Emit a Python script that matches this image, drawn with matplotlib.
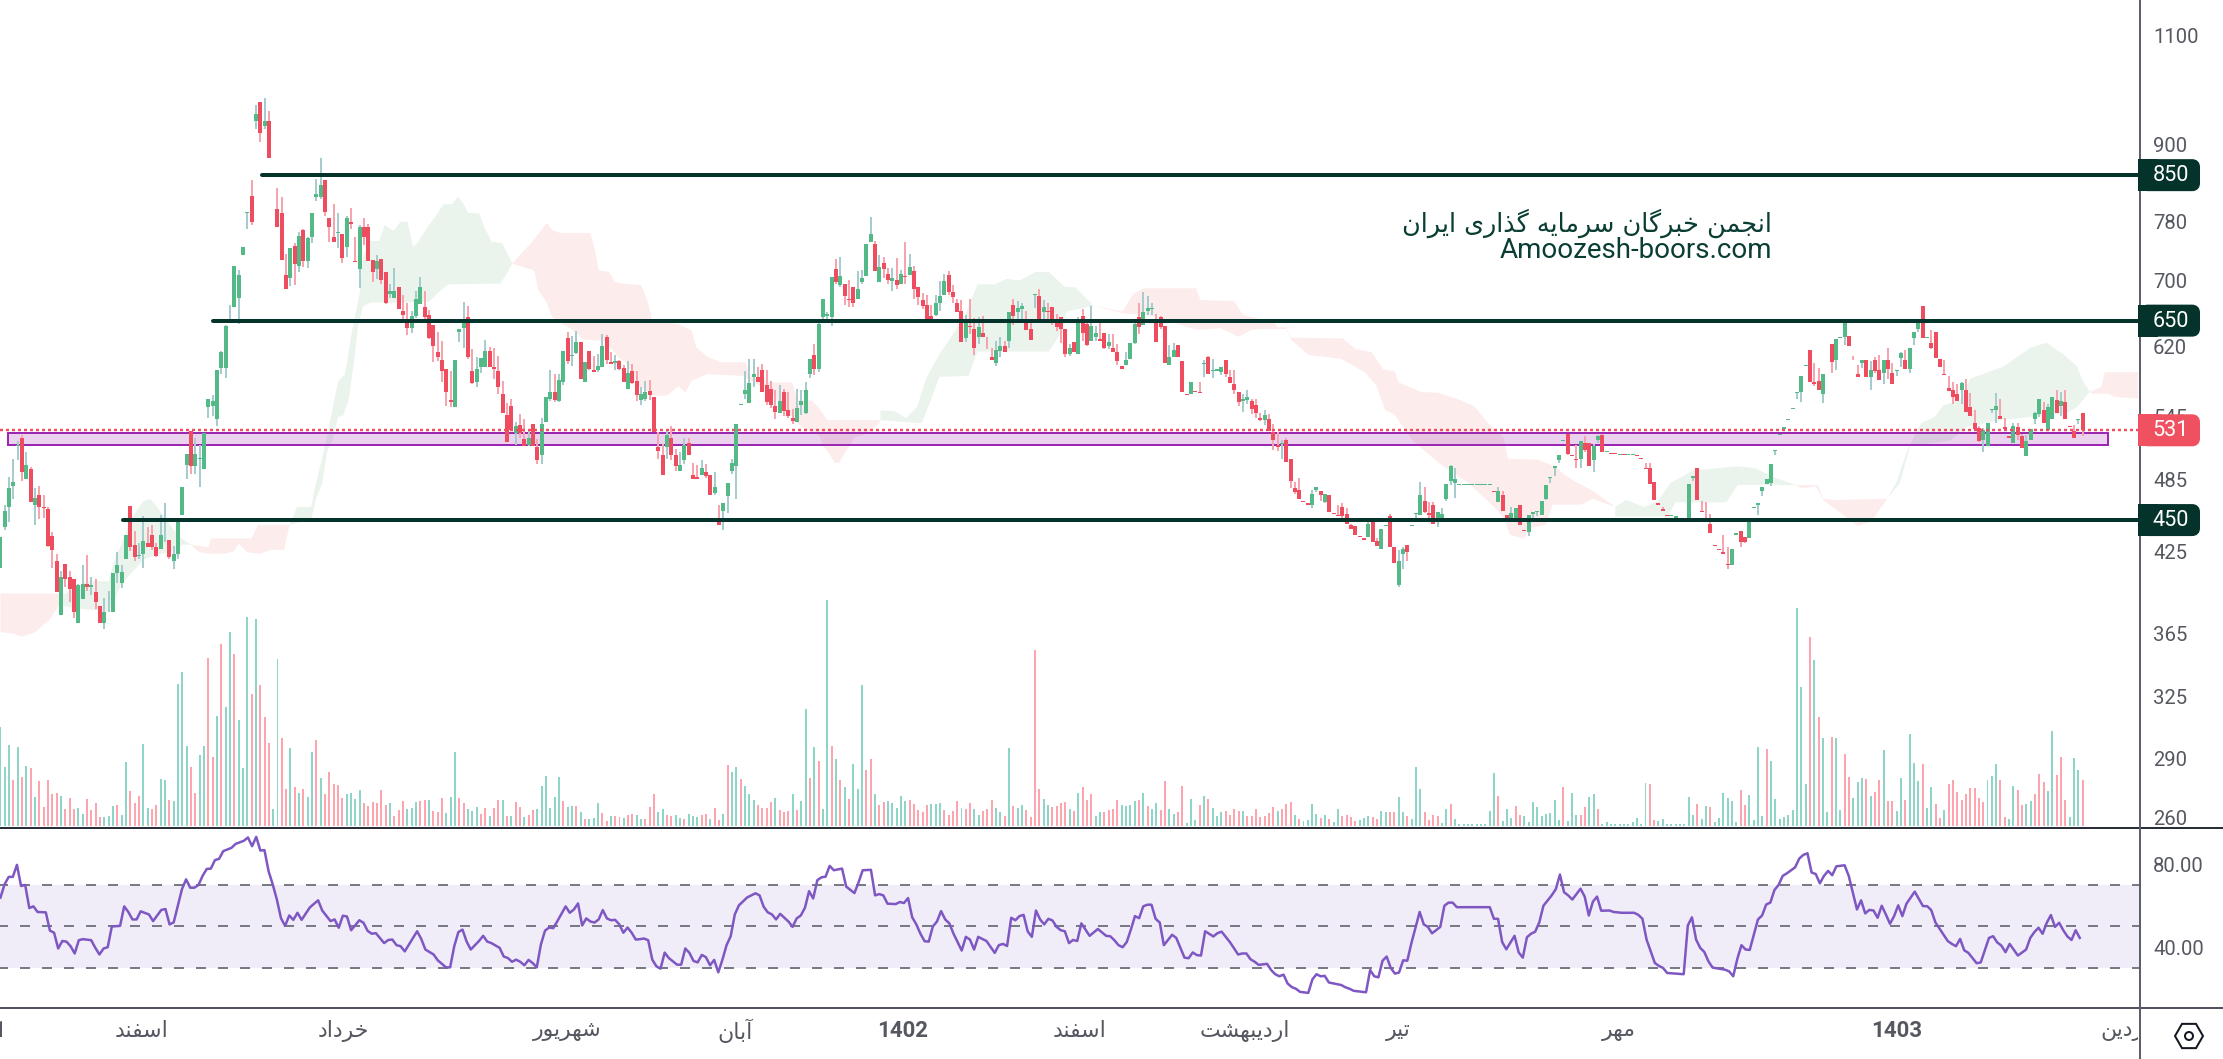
import matplotlib
matplotlib.use('Agg')
import matplotlib.pyplot as plt
import numpy as np
from matplotlib.patches import Rectangle, FancyBboxPatch, RegularPolygon, Circle
from matplotlib.ticker import NullLocator
from matplotlib.transforms import Bbox

# candles (G = up, R = down)
candle_dir = ("GGGGGRGRGR" "RRRRGRRRGG" "RGRRGGGGGG" "RRGGRRRGGR" "GGGGRGGGGG" "GGGGGGGGRG" "RGRRRRRGRG"
              "RGGGGRRRGR" "GRRGRRRGRR" "GGRRRGGGRR" "RRRRRGGGRR" "GGGRRRRRR" "GRRGRRGGGRG"
              "GRGGRGRRGG" "RRGRRGRRGG" "RRRRGRRGGR" "RRGRRGRGGG" "GGGGGRRRRR" "GRRRGGGGRG" "GGGRGRRRGG"
              "GGRGRRGRGR" "GRRRRRGGGR" "RRRGRRGRR" "RGGRGRGGRR" "GRGRRRRRGR" "GRRGGRRGRR" "RGGGRGGGRR"
              "RGGRRRGRRG" "RGGGRRRRGG" "RRR"
              "GRRRGRRRRR" "RGGRGRRRRR" "RRRRGRRGGR" "RGGRGGGRRR" "GGGGGGGGGGGGGRGRRGGR" "RGGGGGGGGG"
              "RRRGRRGGRG" "RRGRGGRRR" "RRRRRGGRGG" "GRRRRRRRRG" "GRRGGGGGGG" "GGGGGGGRRR" "GGRGGGRRRG"
              "RGRRGRRGGR" "GGGRGRRRRR" "RR"
              "GRRRRGGGGR" "RRGRRGGGGR" "GGRGRRRGR")

highs = [436,463,487,504,521,526,510,496,477,479,471,461,440,423,410,415,410,404,400,414,422,405,404,384,390,395,408,424,414,438,
         462,441,431,453,444,446,431,454,464,434,429,448,478,508,530,524,517,528,563,567,593,615,645,669,719,713,745,794,843,967,
         972,980,956,832,830,817,735,743,750,766,769,759,793,844,877,843,785,806,792,762,789,800,758,775,786,777,727,733,728,711,
         695,716,692,681,672,662,686,705,687,663,645,637,626,595,592,605,640,673,668,617,608,607,627,619,618,609,582,558,563,
         539,547,542,530,537,523,543,565,594,589,589,
         615,637,632,638,625,602,615,609,611,634,633,614,610,604,599,603,600,592,575,582,
         583,565,529,518,532,535,513,510,524,524,500,498,503,499,489,492,463,464,482,504,
         537,557,592,606,606,597,600,593,582,572,577,573,570,552,573,572,580,606,623,650,
         676,661,704,728,731,695,700,691,712,714,749,787,753,733,731,716,716,730,714,751,
         735,719,691,684,681,669,681,699,709,712,694,676,675,657,676,653,654,655,631,
         618,626,631,626,661,676,674,672,662,652,683,689,675,672,666,658,654,640,623,625,
         654,664,650,668,644,648,635,634,634,623,598,614,624,649,672,685,680,672,658,655,
         644,621,624,622,603,568,580,571,580,605,609,606,595,597,604,594,594,570,568,572,563,563,548,
         551,547,537,529,522,524,504,483,486,466,464,476,478,475,472,471,456,463,464,460,
         447,445,437,435,449,450,435,443,446,455,428,426,428,430,446,456,483,478,465,465,
         457,460,481,498,495,481,481,481,481,481,481,481,481,475,478,475,454,461,460,463,
         442,454,457,458,466,480,487,497,507,522,527,507,517,521,525,519,518,526,527,511,
         509,509,508,508,508,508,507,505,500,500,483,464,461,454,454,453,452,452,481,
         488,495,466,465,455,430,427,438,428,427,439,441,436,450,461,464,478,485,499,512,
         527,534,542,553,570,587,599,616,601,596,589,605,623,628,631,651,632,609,599,605,
         605,603,608,610,604,618,601,593,614,616,618,636,651,668,631,639,637,606,605,587,581,578,
         580,584,569,551,535,533,538,552,569,563,543,525,538,538,527,526,532,549,563,559,
         557,565,572,570,572,535,536,542,548]

body_top = [436,458,477,483,517,524,498,494,469,471,461,459,437,417,405,415,405,404,399,400,400,399,394,384,380,380,408,414,409,438,
            462,430,422,433,431,438,428,438,439,434,423,448,478,508,530,508,505,528,563,561,593,613,644,656,719,707,745,794,818,951,
            972,939,940,832,799,793,707,743,746,760,768,757,793,821,834,843,785,759,765,762,785,780,725,772,772,772,727,725,728,711,
            687,686,692,662,650,655,677,691,667,657,645,613,604,595,562,605,640,648,654,592,595,607,615,615,597,592,568,546,555,
            535,536,523,524,537,515,537,565,570,570,583,
            615,630,610,625,625,602,615,593,598,620,631,602,603,603,596,590,592,582,568,570,
            571,565,515,507,526,524,507,498,517,519,489,487,495,492,489,478,448,464,482,500,
            537,557,572,579,589,586,593,577,573,555,560,570,551,543,553,561,572,606,610,646,
            676,658,704,715,706,695,676,691,689,703,749,762,749,717,723,709,703,701,708,706,
            717,712,691,675,669,655,672,680,699,707,685,671,662,649,644,640,642,635,626,
            608,616,620,620,661,669,665,668,652,640,683,680,666,662,666,650,654,640,618,625,
            649,655,646,644,635,628,635,625,618,614,598,605,624,646,654,661,665,665,648,654,
            644,608,616,622,603,568,580,571,570,601,608,594,595,597,604,586,578,570,563,565,561,556,543,
            546,542,529,517,519,522,504,477,476,466,464,472,478,475,472,471,456,454,461,455,
            446,445,437,435,447,450,433,443,446,453,428,417,427,430,446,456,471,466,456,463,
            457,455,481,497,485,481,481,481,481,481,481,481,481,475,475,471,454,456,460,463,
            442,454,457,458,466,480,487,497,507,522,527,507,504,521,519,519,516,525,526,511,
            509,509,508,508,508,508,507,505,495,495,483,464,459,454,454,453,452,452,481,
            488,495,458,452,447,430,427,424,415,427,439,441,436,450,461,464,478,485,499,512,
            527,534,542,553,570,587,599,616,581,582,589,605,623,628,631,651,632,605,589,605,
            605,594,605,594,604,604,590,593,612,605,618,636,651,668,631,624,637,606,589,574,572,568,
            579,572,554,538,533,531,538,552,555,545,534,525,535,534,525,521,532,548,563,551,
            554,565,562,560,559,535,530,542,548]

body_bottom = [412,444,461,479,516,492,485,465,463,461,460,429,426,394,378,404,396,380,372,389,398,398,387,372,372,380,380,408,401,419,
               428,420,421,423,428,428,421,427,439,420,417,423,454,498,497,497,504,494,554,555,542,596,596,655,667,678,733,793,779,940,
               918,931,878,831,772,727,689,703,721,719,725,725,758,816,816,794,772,751,764,730,745,777,724,715,758,725,711,715,700,672,
               683,678,664,657,641,641,655,670,654,630,620,608,592,570,559,554,636,641,608,579,580,597,597,597,595,575,548,520,531,
               528,528,516,517,516,503,507,539,563,562,561,
               581,603,609,612,584,581,595,591,593,597,604,600,601,595,580,573,579,567,562,563,
               567,529,511,489,515,507,497,493,503,507,485,485,489,488,471,473,446,458,470,493,
               497,556,568,558,586,581,570,559,556,549,548,550,545,540,539,556,548,589,595,595,
               654,655,654,698,694,680,675,671,676,698,706,751,712,698,715,700,699,694,696,705,
               707,689,679,668,649,648,657,671,681,685,679,660,625,630,642,618,631,631,626,
               604,601,615,613,626,656,660,664,639,627,681,651,661,660,648,643,640,611,611,613,
               611,635,621,626,631,626,618,620,613,603,595,599,606,624,642,645,662,664,625,642,
               601,599,608,608,570,567,568,570,569,600,589,592,592,591,589,579,572,559,560,562,552,548,541,
               541,530,522,515,518,501,484,474,468,465,463,463,476,471,465,457,455,453,453,447,
               443,438,436,434,436,432,429,427,445,428,416,399,423,424,445,455,454,457,454,447,
               452,449,468,484,482,480,480,480,480,480,480,480,480,474,465,458,452,449,448,446,
               441,440,455,457,454,468,486,495,503,521,508,506,503,504,512,497,503,522,510,510,
               508,508,507,507,507,507,506,504,494,481,467,463,458,453,453,452,451,451,452,
               486,467,457,451,439,429,426,423,414,414,438,432,432,435,460,463,475,481,482,511,
               526,532,541,552,569,570,598,581,578,572,568,604,602,605,630,631,620,604,586,601,
               586,586,592,583,590,595,578,592,607,595,595,630,640,629,630,618,607,597,588,571,565,561,
               572,549,545,532,521,522,516,551,551,542,532,524,519,526,514,506,522,542,547,538,
               531,542,548,555,542,534,524,541,531]

lows = [412,442,448,468,503,484,485,465,446,451,452,428,412,394,378,398,387,376,372,389,395,392,382,372,368,380,380,401,397,419,
        425,417,419,412,428,426,420,427,432,419,411,419,454,485,490,490,478,494,543,545,535,589,585,652,667,646,733,769,775,926,
        904,926,878,831,772,727,689,693,694,711,718,716,750,810,814,788,751,751,743,723,731,770,724,690,747,725,698,702,695,670,
        678,678,664,652,633,635,653,670,652,628,602,603,581,555,554,554,625,618,606,578,575,590,597,597,584,568,548,520,531,
        517,524,516,516,516,499,499,539,561,559,559,
        577,600,598,611,584,581,593,591,591,597,600,600,594,594,580,573,578,560,556,560,
        562,529,504,489,504,503,493,493,499,507,485,485,489,486,471,471,446,442,456,490,
        468,556,563,558,575,581,570,556,553,542,548,545,543,537,539,546,547,585,588,591,
        650,650,644,696,691,669,667,667,676,695,706,751,712,698,703,695,686,689,696,696,
        707,677,669,664,649,648,656,662,681,681,672,660,625,625,634,610,623,631,617,
        604,598,608,613,618,645,648,648,639,627,665,650,650,651,645,638,624,608,609,613,
        611,626,620,626,626,626,617,617,613,599,595,599,606,623,634,645,657,657,625,640,
        601,599,608,608,570,567,568,570,569,586,589,585,592,588,586,579,568,555,549,557,547,543,540,
        536,530,512,511,504,501,477,472,468,465,463,460,474,466,464,457,455,453,452,447,
        443,438,436,434,436,432,429,427,445,428,416,398,411,417,445,448,454,456,451,447,
        444,449,466,480,469,480,480,480,480,480,480,480,480,474,465,458,452,449,448,446,
        441,437,452,453,454,467,482,488,500,521,507,506,495,495,510,497,492,519,510,510,
        508,508,507,507,507,507,506,504,494,481,467,463,458,453,453,452,451,451,452,
        484,467,457,451,439,429,426,423,411,414,438,428,431,435,460,454,470,481,479,507,
        526,532,541,552,563,559,598,581,576,572,558,604,590,594,630,622,620,604,586,596,
        586,572,590,583,578,584,578,587,597,595,590,622,636,629,630,617,607,597,588,571,557,560,
        557,549,545,532,520,510,516,548,538,542,532,524,519,522,514,506,522,537,544,538,
        531,542,548,545,542,534,524,537,525]

# volume (arbitrary units) and colour of each bar
volume = [297,177,243,138,237,147,180,174,87,135,57,138,96,99,90,51,84,51,54,36,81,48,69,27,27,30,60,63,33,192,
          105,69,90,246,54,51,63,141,138,78,75,426,462,240,177,99,213,240,504,207,330,546,357,582,516,318,174,627,396,621,
          423,327,249,51,501,264,111,234,117,99,111,87,222,258,144,96,162,126,123,84,96,99,81,108,69,60,72,69,108,
          63,69,30,48,75,51,54,72,75,78,78,45,42,84,39,87,222,84,69,51,45,57,36,54,30,54,78,78,30,30,72,
          57,27,33,48,51,120,150,54,87,147,75,57,60,60,42,21,21,24,69,39,15,30,30,27,24,33,36,33,21,21,
          57,96,42,51,33,30,33,24,21,36,30,27,33,36,21,54,18,36,183,162,177,141,120,96,78,63,54,54,72,84,
          48,42,45,96,48,75,351,144,237,195,51,678,240,201,138,117,81,186,111,423,168,201,96,63,72,75,69,54,90,75,
          78,66,48,42,63,66,66,69,48,33,45,75,54,51,69,51,33,45,51,78,54,42,30,234,60,54,63,48,27,528,
          111,81,63,57,60,69,72,51,45,99,117,78,96,30,42,42,48,51,78,63,60,63,75,78,99,60,51,69,48,135,
          51,36,42,120,9,81,18,63,90,81,54,30,42,45,33,51,45,45,30,30,51,27,30,39,57,45,51,66,72,33,
          21,15,18,66,36,24,33,21,12,51,30,33,27,15,18,24,30,27,21,45,42,42,42,87,42,30,21,177,111,42,
          18,33,30,9,51,66,21,6,6,6,6,6,6,6,45,159,90,15,51,24,60,33,30,12,72,57,30,36,39,78,
          18,117,15,99,33,33,57,87,96,51,6,12,6,6,6,6,6,12,24,6,129,126,18,15,21,6,6,6,6,6,
          87,33,66,21,60,57,12,24,99,84,75,12,108,63,93,18,237,30,231,195,81,21,27,33,48,654,417,126,567,498,
          327,264,42,267,264,48,216,147,84,132,144,141,90,102,138,228,75,75,45,144,78,276,189,135,186,54,117,66,24,48,
          126,138,102,78,96,114,114,84,72,138,150,186,138,27,21,120,108,63,66,75,96,156,132,105,285,153,207,78,27,204,168,138]
volume_dir = ("GGGRGRGRGR" "RRRRGRRRGG" "RRRRGGGRGG" "RRRGGRRGGR" "GGGGRRGGRR" "GRGGRGGGRG" "RRRGGRRGRG" "RGGRGRRRRR"
              "GGGGRRRRR" "RGRRRGGGR" "RGRRRGGGRR" "GGGRRGRRGR" "GR"
              "RGRRGGGGGG" "RGGRGRGGGR" "RGRRGRRGGR" "RRGGRRGGRG" "GGRRGRRGRG" "GRGGGRRRRG" "RRRGRGGRGR" "GGRGRGRGGG"
              "RRGRRGGGGG" "RRRRRGGGRR" "RRGRRGGRRR" "GGRGRGGRRR"
              "RGGRRRRGRG" "RRRGGRRRRG" "GGGRGRGGRR" "GGRRGGGRGR" "GGGRRRRGRR" "RRRRRGRRRG" "RGGGGRGRGG" "RRRRGGGRRG"
              "GRRGGRGGGR" "RRRGGRGGGG" "GGGGGGRGG" "GRRGGGGGGG" "G"
              "GRGGGRRGGR" "GGGGGGGGGG" "GRRGGGGGGG" "GGRGGRGGGG" "GGRRGGGGRG" "GGGGGGGGRG" "RGGRGGRRGG" "GRGRRGRRGG"
              "RGGGRGGRRG" "RRRRRRRRRG" "GGRRGGRRGG" "RRRGGRRRGG" "GR")

# rsi, sampled at the turning points
rsi_index = [0,1,2,3,4,5,6,7,8,9,11,12,13,14,15,16,17,18,19,20,22,23,24,25,26,27,29,30,31,32,33,34,36,37,39,40,41,42,43,44,45,46,47,48,49,50,51,52,53,54,56,57,59,60,61,62,63,64,65,66,67,68,69,70,71,72,73,75,77,78,80,81,82,83,84,85,87,88,89,90,91,93,94,95,96,97,98,101,102,103,105,106,108,109,110,111,112,113,114,116,117,118,119,121,122,123,124,125,126,
             127,128,129,130,131,132,133,134,135,137,138,139,140,141,142,143,144,145,146,147,148,149,150,151,152,153,154,155,156,157,158,159,160,161,162,164,165,166,167,168,169,170,171,172,173,174,175,176,177,178,179,181,183,184,185,186,187,188,189,191,192,193,194,195,196,197,198,199,200,201,202,204,205,207,208,209,211,212,213,214,215,217,218,219,220,221,222,223,224,225,226,227,228,229,230,231,233,234,235,236,237,239,241,242,243,244,245,246,247,248,249,250,251,252,
             253,254,255,256,257,258,259,260,261,262,264,266,268,269,270,271,272,273,274,275,276,277,278,279,280,281,282,284,285,287,288,289,290,291,292,294,295,296,298,300,301,302,303,304,305,307,308,309,310,311,312,313,314,315,317,318,319,320,321,322,325,326,327,328,331,332,333,334,335,336,337,338,339,340,341,342,344,345,346,347,349,350,351,352,353,361,362,363,364,365,367,368,369,370,371,372,373,374,376,377,378,
             379,380,381,383,384,385,386,387,388,390,391,393,396,397,398,399,401,402,403,404,408,409,410,411,412,413,414,415,418,419,420,421,422,423,424,425,426,427,428,429,430,431,432,433,435,436,437,438,439,440,441,442,443,444,445,447,448,449,450,451,452,453,454,455,456,457,458,459,460,461,462,464,466,467,468,469,470,471,472,473,474,475,476,477,478,479,480,482,483,484,485,486,487,489,491,492,493,494,495,496,497,498,499,500,501,502,503,504]
rsi_values = [63.9,70.3,73.9,73.9,79.7,69.5,70,58.9,59.7,57,56.8,48,47,39.4,43,42.7,40.5,37,43.4,43.9,43.4,39.7,36.5,39.4,40,50,50.3,59.7,57,53.4,53.4,57.3,55.8,52.6,58,58.4,51,52,60,68,72.7,68.7,68.7,70,74.4,77.7,77.9,82,82.6,86.3,87.9,89.8,91.3,92.9,88.7,93.2,86.6,86.8,76.6,70.3,63,54,50.3,55.3,53.2,56.6,53.2,59.2,62.6,57.7,52.6,53.4,49.4,55.2,54.8,48.2,53,51.8,47.9,46.5,46.8,42,43.5,43.7,41,40.5,38,47.7,44,38.9,36.5,33.7,30.3,30.3,40.5,47.3,48.5,42.7,38.9,43,45.5,42.7,42,39.7,35.5,34.8,33,34,33,
              31.3,33.9,32.4,30.3,41.3,48,49.5,49.2,52.6,59.7,56.6,58.2,61.1,50.5,53.9,52.4,51.9,53.4,57.9,53.9,53,53.2,51,47,49.5,47,43.7,43.9,44.2,43.4,34,30.8,29.7,37.4,34.8,31.6,31.6,39.4,37.3,33.4,32.7,36.3,35.2,31.3,33.9,27.9,34,41,45.3,55.8,60.2,64,66,65,59.5,56.8,55.8,53.4,56.1,52.4,49.8,53.9,55.3,59,67,63.5,72.3,73.7,74,79.2,77.1,77.9,69.2,66.1,71.3,77.1,77.3,65,65.6,65,61,60.8,61.8,61.3,63.7,54.4,51,46.5,42.9,42.7,50,52.4,57.4,53.4,51.5,46.6,38.4,45,43.7,38.9,45,43,37.3,41,41.6,40.6,54.2,53,55,55.6,47.6,45,57.7,53.4,
              51,53.7,52.9,49.8,48.2,47.7,42,43.5,43,51.5,45.5,48.8,45.5,45.3,43.4,41,40,42.5,48.5,55,54,59.7,60.5,60.5,53.7,51.9,41,46,44.5,35,34.7,37.5,36.2,36,47.7,45.2,46.8,47.5,42.5,36.5,37,37,34.2,33,31.5,32,29,27,26,26.8,22.5,20.8,20,18.5,18,24.5,27,26,26.2,23,21.8,20.7,20,19,18.3,29,26,25.5,33.5,35.5,30,27.3,27.8,33.7,33.5,42,57,51,49.8,46.7,49.8,60,61.5,61.5,59.3,59.3,53.7,53.7,42.5,39,45.5,37.5,35,44.8,46.5,47.5,52,60,65,68,75,
              66.5,65,63,68.2,64.4,55.3,62,64.4,57.6,57.7,57,56.6,56.6,55.6,53.7,43.7,32.4,31,30,27.6,27,50.5,54.4,43.7,39.7,37.7,33.2,30.2,29.2,28.4,26,34.4,41,38.9,38.7,46,53.4,55.3,60.6,61.5,67.6,70,74.4,75.6,78.5,82.7,84.5,85.3,76,75.3,70.8,74.4,76.8,74.7,79,79.5,74.4,66.3,58.2,62.6,56.3,58,57.7,54.2,60,55.8,51.3,55,60.2,55,61,66.8,59.8,59.8,57.9,52,49,46,43,41.6,40.5,44,38.5,37.3,34.8,32.3,32.7,44.5,45.3,42.3,40.8,37.6,41.6,36,38.9,44.5,47.3,49.4,46.5,51.8,55.5,49.8,51.8,48.2,45.2,43.5,48.2,44.5]

# ichimoku cloud outlines: (top bars, top prices, bottom bars, bottom prices)
pink_clouds = [
    ([0,15],[393,393],
     [0,3,5,8,11.5,13.6,15],[366,365,363,366,375,385,393]),
    ([44,48,48.7,58,59.5,66,66.8],[430,428,435,435,446,446,446],
     [44,46,48,52,54,55,57,60,62.5,65.5,66.8],[430,424,423,423,425,431,424,423,426,426,446]),
    ([118.2,123.3,126.2,127.5,129.3,136.3,137.3,138.2,140.6,141.9,143.7,148,149.4,150.6,156.6,159.7,160.7,163.3,166.4,172.1,173.1,177.8,182.9,184,187.5,189.1,191,203.3],
     [722,755,778,768,764,764,741,713,711,698,696,694,675,650,646,638,619,608,602,602,587,580,580,561,561,553,541,541],
     [118.2,123.3,124.2,126.2,127.5,129.3,132.4,134.5,139.6,142.7,144.8,146.8,151,154,156.6,158.2,159.7,163.3,171.6,177.8,185,189.1,190.1,191.7,192.7,193.7,195.3,197.3,200.4,203,203.3],
     [722,713,688,672,654,648,638,628,626,608,600,579,566,566,576,569,582,589,587,570,534,526,516,507,500,500,511,524,528,538,541]),
    ([252.5,259.2,261.8,264.4,276.2,277.2,285,287,291,293.6,295,297,298,310,313,316.8,319.4,322,323,328.1,332.2,337.4,340.5,343.6,347.2,348.2,355,359,361,364.2,367.8,373],
     [668,661,684,690,690,675,674,657,652,652,642,642,630,629,617,613,594,592,580,570,569,561,555,538,524,504,503,497,490,482,475,461],
     [252.5,259.2,267.4,273.6,276.7,281.9,286,289,291,297,298.2,302.3,309.6,315.2,317.8,319.9,322,326,332.2,339.4,345.6,347.5,348.7,351.8,353.9,357,358.5,365.2,367.8,373],
     [668,659,655,643,639,641,631,639,640,640,627,610,606,591,577,551,547,522,500,481,459,450,438,435,444,446,463,463,468,461]),
    ([414.7,419.9,421,424,435.8],[480,480,468,467,468],
     [414.7,416.3,419.4,421,425.1,429.1,432.2,435.8],[480,477,479,467,456,445,449,468]),
    ([482.6,485.3,486.1,493.8],[570,575,591,591],
     [482.6,483.4,487.3,488,493.8],[570,568,568,565,563]),
]
green_clouds = [
    ([13.6,15,20,25,26,27,28,30,33,34.5,36,38,41,44],[385,393,402,402,415,424,430,450,466,468,462,452,437,430],
     [13.6,16,25,28,33,35,40,42,44],[385,383,380,400,418,421,425,430,430]),
    ([66.8,68.5,71.8,72.6,74.7,76.3,78,79.6,81.3,83,83.7,85.4,87.5,88.7,90.8,92.4,94,95.3,96.1,98.6,100.2,102.3,104.4,105.6,106.8,108,110.6,111.8,113.4,115.9,117.6,118.2],
     [446,461,461,477,511,543,581,589,640,684,730,753,753,775,767,780,780,745,748,772,785,805,806,817,808,793,792,772,752,750,730,722],
     [66.8,71.8,73,74.3,75.5,76.7,78,79.2,80.4,81.7,82.5,83.7,85.4,90.8,99,101,103.5,115.5,117.2,118.2],
     [446,451,469,481,511,521,544,546,561,603,640,667,672,672,673,684,695,696,711,722]),
    ([203.3,206.6,209.2,211.8,213.8,216.9,219.5,222.6,225.7,229.8,232.4,235.5,239.1,242.2,245.8,248.4,249.9,252.5],
     [551,550,543,555,584,611,630,654,695,695,702,700,711,711,692,691,682,668],
     [203.3,212.8,214.9,216.9,223.6,225.7,242.2,244.8,246.3,252.5],[541,538,561,586,587,614,614,634,661,668]),
    ([373,375.5,379.7,382.8,385.8,391,401.3,405.4,409.6,414.7],[461,467,461,466,482,493,497,495,487,480],
     [373,385.3,385.8,386.9,398.7,401.3,414.7],[453,453,457,465,465,480,480]),
    ([435.8,437.9,440.5,443.6,446.7,448.8,452.6,455,462.6,468.8,472.6,476.5,479.6,481.1,482.6],
     [468,482,512,538,544,556,561,584,597,618,624,611,598,581,570],
     [435.8,438.8,441.1,450.3,454.2,461.9,477.3,479.6,482.6],[468,482,516,521,534,541,548,554,570]),
]

price_ticks = [1100,900,780,700,620,545,485,425,365,325,290,260]
level_prices = [850,650,450]
level_starts = [60.5,49.2,28.4]
last_price = 531
box_bars = [1.8,486.8]
box_prices = [516.5,528.5]
rsi_bands = [70,50,30]
rsi_ticks = [80,40]
month_labels = ['اسفند','خرداد','شهریور','آبان','اسفند','اردیبهشت','تیر','مهر']
month_x = [142,343,567,735,1080,1245,1398,1619]
year_labels = ['1401','1402','1403']

FORMS = {'ا':'\ufe8d\ufe8e','آ':'\ufe81\ufe82','د':'\ufea9\ufeaa','ذ':'\ufeab\ufeac','ر':'\ufead\ufeae','ز':'\ufeaf\ufeb0','و':'\ufeed\ufeee',
         'ب':'\ufe8f\ufe90\ufe91\ufe92','پ':'\ufb56\ufb57\ufb58\ufb59','ت':'\ufe95\ufe96\ufe97\ufe98','ج':'\ufe9d\ufe9e\ufe9f\ufea0',
         'خ':'\ufea5\ufea6\ufea7\ufea8','س':'\ufeb1\ufeb2\ufeb3\ufeb4','ش':'\ufeb5\ufeb6\ufeb7\ufeb8','ف':'\ufed1\ufed2\ufed3\ufed4',
         'گ':'\ufb92\ufb93\ufb94\ufb95','م':'\ufee1\ufee2\ufee3\ufee4','ن':'\ufee5\ufee6\ufee7\ufee8','ه':'\ufee9\ufeea\ufeeb\ufeec',
         'ی':'\ufbfc\ufbfd\ufbfe\ufbff'}

def shapeFa(text):
    # matplotlib does no arabic shaping, so pick the joined glyphs and reverse
    out = []
    for i, ch in enumerate(text):
        if ch not in FORMS:
            out.append(ch)
            continue
        prev = text[i-1] if i > 0 else ' '
        nxt = text[i+1] if i < len(text)-1 else ' '
        joinPrev = prev in FORMS and len(FORMS[prev]) == 4
        joinNext = nxt in FORMS and len(FORMS[ch]) == 4
        if joinPrev and joinNext:
            out.append(FORMS[ch][3])
        elif joinPrev:
            out.append(FORMS[ch][1])
        elif joinNext:
            out.append(FORMS[ch][2])
        else:
            out.append(FORMS[ch][0])
    return ''.join(reversed(out))

W, H = 2223, 1059
PX = 0.72
plt.rcParams['font.family'] = ['Roboto', 'DejaVu Sans']
fig = plt.figure(figsize=(W/100, H/100), dpi=100)
GREY = '#555860'

xMax = 2140/4.33
axVol = fig.add_axes([0, (H-826)/H, 2140/W, 826/H])
axVol.set_xlim(-0.1, xMax)
axVol.set_ylim(0, 2478)
axVol.axis('off')
volUp = np.array([c == 'G' for c in volume_dir])
volume = np.array(volume)
volX = np.arange(len(volume))
axVol.bar(volX[volUp], volume[volUp], width=0.46, color='#8fd5c7', linewidth=0)
axVol.bar(volX[~volUp], volume[~volUp], width=0.46, color='#fca5ae', linewidth=0)

ax = fig.add_axes([0, (H-826)/H, 2140/W, 826/H], sharex=axVol)
ax.patch.set_alpha(0)
ax.set_yscale('log')
ax.set_ylim(256, 1174)
for s in ax.spines.values():
    s.set_visible(False)

for topX, topY, botX, botY in pink_clouds:
    ax.fill(topX+botX[::-1], topY+botY[::-1], color='#fdecec', linewidth=0, zorder=1)
for topX, topY, botX, botY in green_clouds:
    ax.fill(topX+botX[::-1], topY+botY[::-1], color='#ebf4ec', linewidth=0, zorder=1)

ax.add_patch(Rectangle((box_bars[0], box_prices[0]), box_bars[1]-box_bars[0], box_prices[1]-box_prices[0],
                       facecolor=(0.612, 0.153, 0.69, 0.2), edgecolor='#9c27b0', linewidth=2*PX, zorder=2))

up = np.array([c == 'G' for c in candle_dir])
highs = np.array(highs)
lows = np.array(lows)
body_top = np.array(body_top)
body_bottom = np.array(body_bottom)
x = np.arange(len(highs))
ax.vlines(x[up], lows[up], highs[up], color='#a6cccd', linewidth=2*PX, zorder=3)
ax.vlines(x[~up], lows[~up], highs[~up], color='#f7a4af', linewidth=2*PX, zorder=3)
ax.vlines(x[up], body_bottom[up], body_top[up], color='#53b987', linewidth=4*PX, capstyle='butt', zorder=4)
ax.vlines(x[~up], body_bottom[~up], body_top[~up], color='#ee4c5f', linewidth=4*PX, capstyle='butt', zorder=4)

ax.axhline(last_price, color='#ee4c5f', linewidth=2.4*PX, linestyle=(0, (1.25, 1.25)), dash_capstyle='butt', zorder=5)
for level, start in zip(level_prices, level_starts):
    ax.hlines(level, start, xMax+5, color='#04332b', linewidth=4*PX, capstyle='round', zorder=6)

ax.yaxis.tick_right()
ax.set_yticks(price_ticks)
ax.set_yticklabels([str(t) for t in price_ticks])
ax.yaxis.set_minor_locator(NullLocator())
ax.tick_params(axis='y', length=0, pad=9.4, labelsize=14.6, labelcolor=GREY)
ax.tick_params(axis='x', length=0, labelbottom=False)

axRsi = fig.add_axes([0, (H-1007)/H, 2140/W, 177/H], sharex=axVol)
axRsi.patch.set_alpha(0)
axRsi.set_ylim(11.2, 96.5)
for s in axRsi.spines.values():
    s.set_visible(False)
axRsi.axhspan(30, 70, color='#f0edf9', linewidth=0, zorder=1)
for band in rsi_bands:
    axRsi.axhline(band, color='#787b86', linewidth=2*PX, linestyle=(1, (5, 6)), zorder=2)
axRsi.plot(np.array(rsi_index)*0.953, rsi_values, color='#7e57c2', linewidth=2.5*PX, zorder=3)
axRsi.yaxis.tick_right()
axRsi.set_yticks(rsi_ticks)
axRsi.set_yticklabels(['%.2f' % t for t in rsi_ticks])
axRsi.tick_params(axis='y', length=0, pad=9.4, labelsize=14.6, labelcolor=GREY)
axRsi.tick_params(axis='x', length=0, labelbottom=False)

# overlay in figure pixels: separators, price tags, time labels, watermark
over = fig.add_axes([0, 0, 1, 1])
over.set_xlim(0, W)
over.set_ylim(H, 0)
over.axis('off')
over.patch.set_alpha(0)

def priceToY(p):
    return H - ax.transData.transform((0, p))[1]

def tag(p, label, color):
    y = priceToY(p)
    over.add_patch(FancyBboxPatch((2144, y-12), 52, 24, boxstyle='round,pad=0,rounding_size=4', mutation_aspect=1,
                                  facecolor=color, edgecolor=color, linewidth=8*PX, zorder=3))
    over.add_patch(Rectangle((2138, y-16), 20, 32, facecolor=color, linewidth=0, zorder=3))
    over.text(2171, y+0.5, label, color='white', fontsize=15.6, ha='center', va='center', zorder=4)

over.plot([0, W], [828, 828], color='#2a2e39', linewidth=2*PX, zorder=2)
over.plot([0, W], [1008, 1008], color='#50535e', linewidth=2*PX, zorder=2)
over.plot([2139.5, 2139.5], [0, H], color='#5d606b', linewidth=2*PX, zorder=2)
for level in level_prices:
    tag(level, str(level), '#04332b')
tag(last_price, str(last_price), '#ef5161')

over.text(1772, 223, shapeFa('انجمن خبرگان سرمایه گذاری ایران'), family='DejaVu Sans', color='#0a3d34', fontsize=18.4, ha='right', va='center')
over.text(1772, 250.5, 'Amoozesh-boors.com', color='#0a3d34', fontsize=20, ha='right', va='center')

labelY = 1031
for label, px in zip(month_labels, month_x):
    over.text(px, labelY, shapeFa(label), family='DejaVu Sans', color=GREY, fontsize=15.8, ha='center', va='center')
over.text(6, labelY, year_labels[0], color=GREY, fontsize=16, fontweight='bold', ha='right', va='center')
over.text(903, labelY, year_labels[1], color=GREY, fontsize=16, fontweight='bold', ha='center', va='center')
over.text(1897, labelY, year_labels[2], color=GREY, fontsize=16, fontweight='bold', ha='center', va='center')
clipped = over.text(2100, labelY, shapeFa('فروردین'), family='DejaVu Sans', color=GREY, fontsize=15.8, ha='left', va='center')
clipped.set_clip_on(True)
clipped.set_clip_box(Bbox([[0, 0], [2138, H]]))

over.add_patch(RegularPolygon((2189, 1036), 6, radius=14, orientation=np.pi/6, facecolor='none', edgecolor='#131722', linewidth=2*PX))
over.add_patch(Circle((2189, 1036), 4, facecolor='none', edgecolor='#131722', linewidth=2*PX))

fig.savefig('out.png', dpi=100)
